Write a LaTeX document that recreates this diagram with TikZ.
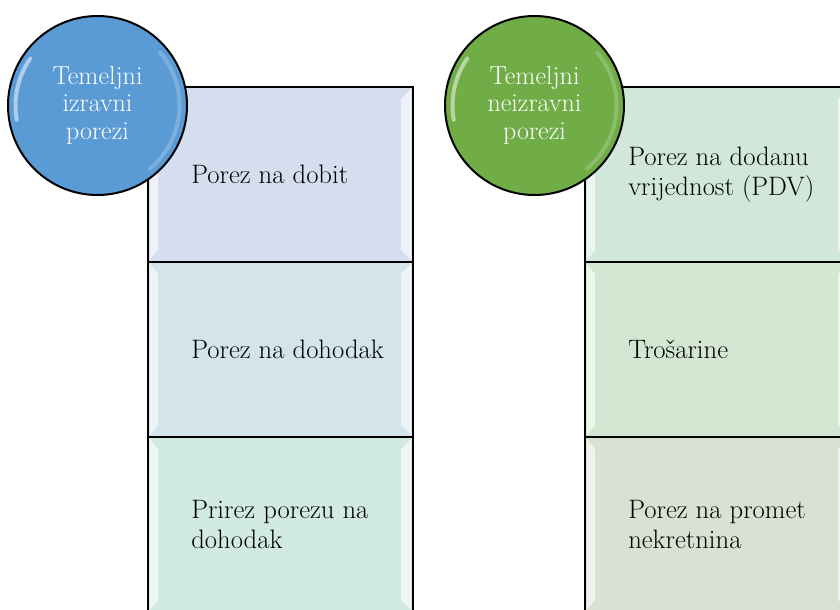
\documentclass[tikz,border=0pt]{standalone}
\usetikzlibrary{positioning}
\definecolor{circblue}{RGB}{91,155,213}
\definecolor{circgreen}{RGB}{112,173,71}
\definecolor{lboxa}{RGB}{213,222,238}
\definecolor{lboxb}{RGB}{211,228,234}
\definecolor{lboxc}{RGB}{210,234,228}
\definecolor{rboxa}{RGB}{210,231,220}
\definecolor{rboxb}{RGB}{211,230,210}
\definecolor{rboxc}{RGB}{216,225,210}
\tikzset{
    %Define style for boxes
    taxbox/.style={
           rectangle,
           draw=black, line width=1.5pt,
           minimum width=198.75pt,
           minimum height=131.25pt,
           inner sep=0pt,
           outer sep=0pt},
    %Define style for circles
    taxcircle/.style={
           circle,
           draw=black, line width=1.5pt,
           minimum size=134.25pt,
           inner sep=0pt,
           outer sep=0pt,
           text=white,
           align=center,
           font=\fontsize{19.5}{20.5}\selectfont},
    boxtext/.style={
           inner sep=0pt,
           anchor=west,
           align=left,
           font=\fontsize{20}{22.5}\selectfont},
    % Define bevel and gloss style
    bevel/.style={white, opacity=.6},
    gloss/.style={white, line width=3pt, line cap=round}
}
\begin{document}
\begin{tikzpicture}[x=0.75pt,y=-0.75pt]
\useasboundingbox (0,0) rectangle (840,610);
\clip (0,0) rectangle (840,610);
% left column
\node[taxbox, fill=lboxa, anchor=north west](b1) at (148,87){};
\node[taxbox, fill=lboxb, below=0pt of b1](b2){};
\node[taxbox, fill=lboxc, below=0pt of b2](b3){};
% right column
\node[taxbox, fill=rboxa, anchor=north west](b4) at (585,87){};
\node[taxbox, fill=rboxb, below=0pt of b4](b5){};
\node[taxbox, fill=rboxc, below=0pt of b5](b6){};
\foreach \b in {b1,b2,b3,b4,b5,b6}{
  \fill[bevel] ([shift={(2,2)}]\b.north west) -- ([shift={(10,12)}]\b.north west)
     -- ([shift={(10,-12)}]\b.south west) -- ([shift={(2,-2)}]\b.south west) -- cycle;
  \fill[bevel] ([shift={(-2,2)}]\b.north east) -- ([shift={(-12,12)}]\b.north east)
     -- ([shift={(-12,-12)}]\b.south east) -- ([shift={(-2,-2)}]\b.south east) -- cycle;
}
\node[boxtext, right=32.25pt of b1.west](t1){Porez na dobit};
\node[boxtext, right=32.25pt of b2.west](t2){Porez na dohodak};
\node[boxtext, right=32.25pt of b3.west](t3){Prirez porezu na\\dohodak};
\node[boxtext, right=32.25pt of b4.west](t4){Porez na dodanu\\vrijednost (PDV)};
\node[boxtext, right=32.25pt of b5.west](t5){Trošarine};
\node[boxtext, right=32.25pt of b6.west](t6){Porez na promet\\nekretnina};
% circles
\node[taxcircle, fill=circblue](c1) at (97.5,105.5){Temeljni\\izravni\\porezi};
\node[taxcircle, fill=circgreen](c2) at (534.5,105.5){Temeljni\\neizravni\\porezi};
\foreach \c in {c1,c2}{
  \draw[gloss, opacity=.5] (\c.center) ++(170:82) arc (170:215:82);
  \draw[gloss, opacity=.2] (\c.center) ++(-40:82) arc (-40:50:82);
}
\end{tikzpicture}
\end{document}
